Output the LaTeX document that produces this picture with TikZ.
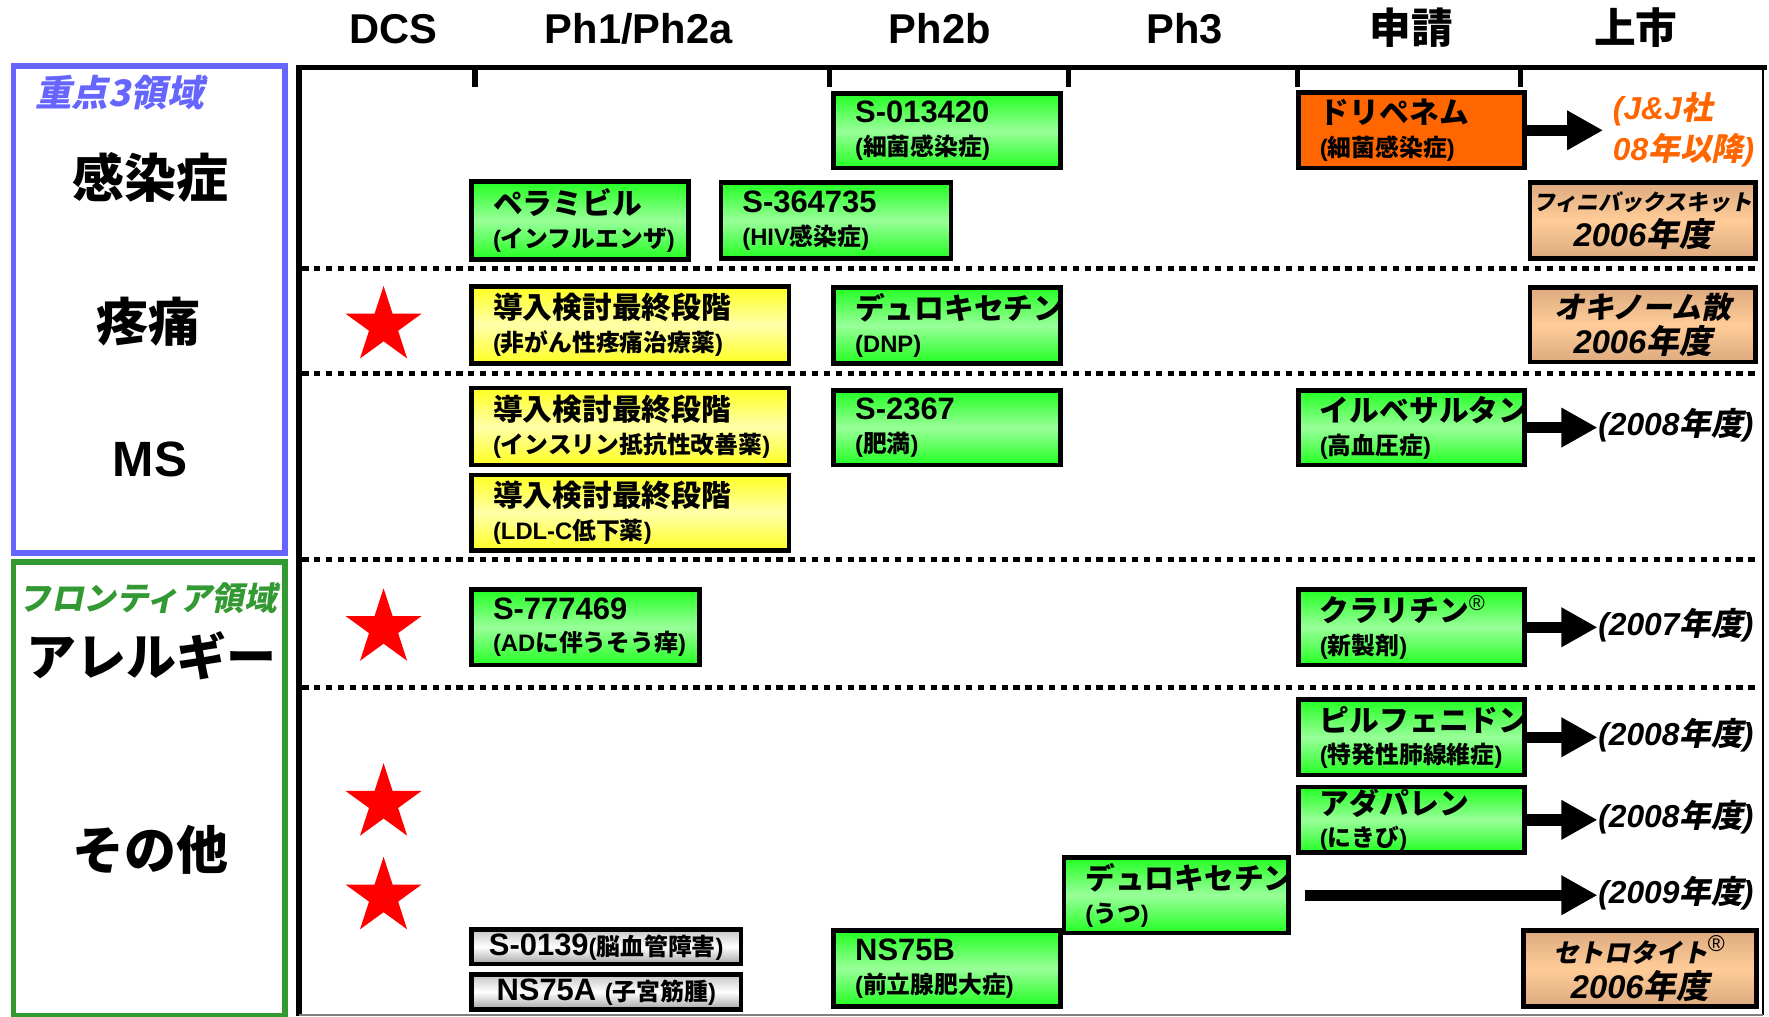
\documentclass[tikz,border=0pt]{standalone}
\usepackage{fontspec}
\setmainfont{Liberation Sans}
\newfontfamily\jpf{Noto Sans CJK JP}
\newfontfamily\jpi[FakeSlant=0.2]{Noto Sans CJK JP}
\usetikzlibrary{arrows.meta,shapes.geometric}

\definecolor{boxgreen}{HTML}{22FF22}
\definecolor{boxgreenmid}{HTML}{99FF99}
\definecolor{boxyellow}{HTML}{FFFF22}
\definecolor{boxyellowmid}{HTML}{FFFFAA}
\definecolor{boxorange}{HTML}{FF6600}
\definecolor{boxtan}{HTML}{DCAA7E}
\definecolor{boxtanmid}{HTML}{FFCC99}
\definecolor{zoneblue}{HTML}{6666FF}
\definecolor{zonegreen}{HTML}{339933}

\newcommand{\jname}[1]{{\jpf\fontsize{7.5pt}{8pt}\selectfont #1}}
\newcommand{\jx}[1]{{\jpf #1}}
\newcommand{\jy}[1]{{\jpi #1}}
\newcommand{\detail}[1]{{\fontsize{6pt}{7pt}\selectfont #1}}

\tikzset{
  stagehead/.style={inner sep=0, text height=0.28cm, text depth=0cm, font=\bfseries\fontsize{10.5pt}{12pt}\selectfont},
  area/.style={inner sep=0, font=\jpf\bfseries\fontsize{13.1pt}{15pt}\selectfont},
  zonetitle/.style={inner sep=0, font=\jpi\bfseries\fontsize{9.2pt}{10pt}\selectfont},
  drug/.style={draw, line width=0.04cm, anchor=north west, inner xsep=0.19cm, inner ysep=0, align=left, font=\bfseries\fontsize{7.8pt}{8.2pt}\selectfont},
  ingreen/.style={drug, top color=boxgreen, bottom color=boxgreen, middle color=boxgreenmid},
  inyellow/.style={drug, top color=boxyellow, bottom color=boxyellow, middle color=boxyellowmid},
  filed/.style={drug, fill=boxorange},
  launched/.style={draw, line width=0.04cm, anchor=north west, inner sep=0, align=center, top color=boxtan, bottom color=boxtan, middle color=boxtanmid, font=\bfseries\fontsize{8.25pt}{9pt}\selectfont},
  stopped/.style={draw, line width=0.04cm, anchor=north west, inner sep=0, top color=gray!45, bottom color=gray!70, middle color=white, font=\bfseries\fontsize{7.8pt}{8pt}\selectfont},
  launchyear/.style={anchor=west, inner sep=0, font=\bfseries\itshape\fontsize{8pt}{10pt}\selectfont},
  golive/.style={line width=0.1cm, -{Triangle[length=0.32cm,width=0.33cm]}},
  divider/.style={line width=0.045cm, dash pattern=on 0.055cm off 0.05cm},
  redstar/.style={star, star points=5, star point ratio=2.618, fill=red, draw=none, minimum size=0.71cm, inner sep=0}
}

\begin{document}
\begin{tikzpicture}[x=0.01cm,y=-0.01cm]
    \useasboundingbox (0,0) rectangle (1568,901);

    % frame of the chart
    \draw[line width=0.05cm] (263,60) -- (1566,60);
    \draw[line width=0.05cm] (265,58) -- (265,901);
    \draw[line width=0.02cm] (1563,60) -- (1563,900);
    \draw[gray, line width=0.015cm] (265,899.5) -- (1563,899.5);
    \foreach \x in {421,735,947,1150,1348}
        \draw[line width=0.045cm] (\x,60) -- (\x,77);
    \foreach \y in {238,331,496,609}
        \draw[divider] (268,\y) -- (1560,\y);
    \draw[zoneblue, line width=0.05cm] (12,58.5) rectangle (252.5,490);
    \draw[zonegreen, line width=0.05cm] (12,498) rectangle (252.5,900);

    \node[stagehead] (hdcs) at (349,25) {DCS};
    \node[stagehead] (hph1) at (566,25) {Ph1/Ph2a};
    \node[stagehead] (hph2b) at (833,25) {Ph2b};
    \node[stagehead] (hph3) at (1050,25) {Ph3};
    \node[stagehead] (hnda) at (1251,25) {\jx{申請}};
    \node[stagehead] (hlaunch) at (1450,25) {\jx{上市}};

    \node[zonetitle, text=zoneblue] (focus) at (106,82) {重点3領域};
    \node[area] (infect) at (133,157) {感染症};
    \node[area] (pain) at (132,285) {疼痛};
    \node[area, font=\bfseries\fontsize{12.5pt}{14pt}\selectfont] (ms) at (133,407) {MS};
    \node[zonetitle, text=zonegreen, font=\jpi\bfseries\fontsize{8.2pt}{10pt}\selectfont] (frontier) at (131,530) {フロンティア領域};
    \node[area, font=\jpf\bfseries\fontsize{12.6pt}{14pt}\selectfont] (allergy) at (134,581) {アレルギー};
    \node[area] (other) at (133,753) {その他};

    \node[redstar] (star1) at (340,289) {};
    \node[redstar] (star2) at (340,557) {};
    \node[redstar] (star3) at (340,712) {};
    \node[redstar] (star4) at (340,795) {};

    % infection
    \node[ingreen, text width=1.63cm, minimum height=0.66cm] (s013420) at (737,81) {S-013420\\\detail{(\jx{細菌感染症})}};
    \node[ingreen, text width=1.54cm, minimum height=0.69cm] (peramivir) at (416,159) {\jname{ペラミビル}\\\detail{(\jx{インフルエンザ})}};
    \node[ingreen, text width=1.66cm, minimum height=0.67cm] (s364735) at (637,160) {S-364735\\\detail{(HIV\jx{感染症})}};
    \node[filed, text width=1.62cm, minimum height=0.67cm] (doripenem) at (1149,80) {\jname{ドリペネム}\\\detail{(\jx{細菌感染症})}};
    \node[launched, minimum width=2.00cm, minimum height=0.67cm] (finibax) at (1354,160) {{\jpi\fontsize{5.55pt}{9pt}\selectfont フィニバックスキット}\\{\itshape 2006\jy{年度}}};
    \node[launchyear, text=boxorange, align=left, inner xsep=0.08cm, font=\bfseries\itshape\fontsize{8pt}{10.1pt}\selectfont] (jj) at (1421,115) {(J\&J\jy{社}\\08\jy{年以降})};

    % pain
    \node[inyellow, text width=2.43cm, minimum height=0.68cm] (study1) at (416,252) {\jname{導入検討最終段階}\\\detail{(\jx{非がん性疼痛治療薬})}};
    \node[ingreen, text width=1.63cm, minimum height=0.67cm] (duloxdnp) at (737,253) {\jname{デュロキセチン}\\\detail{(DNP)}};
    \node[launched, minimum width=2.00cm, minimum height=0.66cm] (oxinorm) at (1354,253) {{\jpi\fontsize{7.55pt}{9pt}\selectfont オキノーム散}\\{\itshape 2006\jy{年度}}};

    % MS
    \node[inyellow, text width=2.43cm, minimum height=0.68cm] (study2) at (416,342) {\jname{導入検討最終段階}\\\detail{(\jx{インスリン抵抗性改善薬})}};
    \node[inyellow, text width=2.43cm, minimum height=0.67cm] (study3) at (416,419) {\jname{導入検討最終段階}\\\detail{(LDL-C\jx{低下薬})}};
    \node[ingreen, text width=1.63cm, minimum height=0.66cm] (s2367) at (737,344) {S-2367\\\detail{(\jx{肥満})}};
    \node[ingreen, text width=1.62cm, minimum height=0.66cm] (irbesartan) at (1149,344) {\jname{イルベサルタン}\\\detail{(\jx{高血圧症})}};
    \node[launchyear] (y2008a) at (1416,377) {(2008\jy{年度})};

    % allergy
    \node[ingreen, text width=1.64cm, minimum height=0.67cm] (s777469) at (416,520.5) {S-777469\\\detail{(AD\jx{に伴うそう痒})}};
    \node[ingreen, text width=1.62cm, minimum height=0.67cm] (claritin) at (1149,520.5) {\jname{クラリチン}\textsuperscript{\mdseries ®}\\\detail{(\jx{新製剤})}};
    \node[launchyear] (y2007) at (1416,554) {(2007\jy{年度})};

    % other
    \node[ingreen, text width=1.62cm, minimum height=0.67cm] (pirfenidone) at (1149,618) {\jname{ピルフェニドン}\\\detail{(\jx{特発性肺線維症})}};
    \node[launchyear] (y2008b) at (1416,651.5) {(2008\jy{年度})};
    \node[ingreen, text width=1.62cm, minimum height=0.58cm] (adapalene) at (1149,695.7) {\jname{アダパレン}\\\detail{(\jx{にきび})}};
    \node[launchyear] (y2008c) at (1416,724.4) {(2008\jy{年度})};
    \node[ingreen, text width=1.61cm, minimum height=0.67cm] (duloxdep) at (941,758) {\jname{デュロキセチン}\\\detail{(\jx{うつ})}};
    \node[launchyear] (y2009) at (1416,791.5) {(2009\jy{年度})};
    \node[ingreen, text width=1.63cm, minimum height=0.67cm] (ns75b) at (737,823) {NS75B\\\detail{(\jx{前立腺肥大症})}};
    \node[stopped, minimum width=2.386cm, minimum height=0.305cm] (s0139) at (416,822) {S-0139\detail{(\jx{脳血管障害})}};
    \node[stopped, minimum width=2.386cm, minimum height=0.306cm] (ns75a) at (416,862) {NS75A \detail{(\jx{子宮筋腫})}};
    \node[launched, minimum width=2.06cm, minimum height=0.67cm] (cetrotide) at (1348.6,823) {{\jpi\fontsize{6.5pt}{9pt}\selectfont セトロタイト}\textsuperscript{\mdseries ®}\\{\itshape 2006\jy{年度}}};

    \draw[golive] (doripenem.east) -- (doripenem.east -| jj.west);
    \draw[golive] (irbesartan.east) -- (irbesartan.east -| y2008a.west);
    \draw[golive] (claritin.east) -- (claritin.east -| y2007.west);
    \draw[golive] (pirfenidone.east) -- (pirfenidone.east -| y2008b.west);
    \draw[golive] (adapalene.east) -- (adapalene.east -| y2008c.west);
    \draw[golive] ([xshift=0.13cm]duloxdep.east) -- (duloxdep.east -| y2009.west);
\end{tikzpicture}
\end{document}
